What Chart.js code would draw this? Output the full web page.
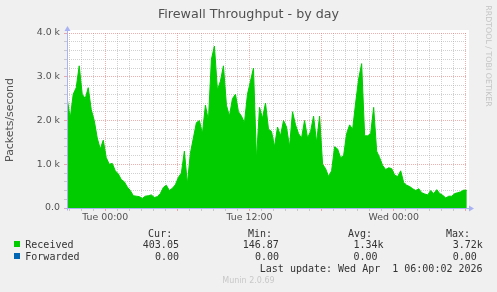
<!DOCTYPE html>
<html>
<head>
<meta charset="utf-8">
<script src="https://cdn.jsdelivr.net/npm/chart.js@4.4.1/dist/chart.umd.min.js"></script>
<style>
  body { margin: 0; background: #f0f0f0; }
  #wrap { position: relative; width: 497px; height: 292px; overflow: hidden; font-family: "DejaVu Sans", sans-serif; }
  #chart { position: absolute; left: 0; top: 0; }
  .txt { position: absolute; white-space: pre; }
  .title { left: 0; top: 6px; width: 497px; text-align: center; font-size: 12.7px; line-height: 15px; color: #505050; }
  .ytitle { left: -49.8px; top: 112.5px; width: 120px; height: 14px; line-height: 14px; text-align: center; font-size: 10.9px; color: #505050; transform: rotate(-90deg); }
  .rrd { left: 427.7px; top: 51px; width: 120px; height: 10px; line-height: 10px; text-align: center; font-size: 7.9px; color: #c4c4c4; transform: rotate(90deg); }
  .mono { font-family: "DejaVu Sans Mono", monospace; font-size: 10px; line-height: 12px; color: #333; }
  .box { position: absolute; width: 6px; height: 6px; }
  .munin { left: 0; top: 276px; width: 497px; text-align: center; font-size: 8px; line-height: 10px; color: #c8c8c8; }
</style>
</head>
<body>
<div id="wrap">
  <canvas id="chart" width="497" height="292"></canvas>
  <div class="txt title">Firewall Throughput - by day</div>
  <div class="txt ytitle">Packets/second</div>
  <div class="txt rrd">RRDTOOL / TOBI OETIKER</div>
  <div class="txt munin">Munin 2.0.69</div>
</div>
<script>
// packets/second, one reading every 15 minutes, starting Mon ~20:50
const sampleStart = -190; // minutes relative to Tue 00:00
const sampleStep = 15;
const received = [
  2500, 2050, 2600, 2750, 3250, 2600, 2500, 2750, 2250, 2000,
  1600, 1350, 1550, 1150, 1000, 1020, 850, 780, 650, 600,
  480, 400, 280, 270, 260, 220, 270, 280, 300, 240,
  260, 330, 470, 520, 400, 450, 530, 700, 800, 1300,
  550, 1250, 1600, 1950, 2000, 1700, 2350, 2000, 3400, 3700,
  2700, 2900, 3250, 2350, 2100, 2500, 2600, 2200, 2100, 1950,
  2600, 2900, 3200, 1100, 2300, 2050, 2400, 1800, 1750, 1400,
  1850, 1650, 2000, 1850, 1400, 2200, 1900, 1700, 1600, 2000,
  1600, 1750, 2100, 1500, 2100, 1000, 900, 720, 850, 1400,
  1350, 1150, 1200, 1700, 1900, 1800, 2400, 2950, 3300, 1650,
  1650, 1700, 2300, 1300, 1150, 970, 880, 920, 900, 750,
  720, 850, 580, 520, 490, 440, 400, 440, 350, 320,
  300, 400, 330, 420, 330, 290, 230, 270, 270, 330,
  350, 370, 410, 403
];

const xTickMinutes = [0, 720, 1440];
const xTickText = ["Tue 00:00", "Tue 12:00", "Wed 00:00"];
const yTickValues = [0, 1000, 2000, 3000, 4000];
const yTickText = ["0.0", "1.0 k", "2.0 k", "3.0 k", "4.0 k"];

const seriesNames = ["Received", "Forwarded"];
const seriesColors = ["#00cc00", "#0066b3"];
const statHeaders = ["Cur:", "Min:", "Avg:", "Max:"];
const curText = ["403.05", "0.00"];
const minText = ["146.87", "0.00"];
const avgText = ["1.34k", "0.00"];
const maxText = ["3.72k", "0.00"];
const lastUpdate = "Last update: Wed Apr  1 06:00:02 2026";

const wrap = document.getElementById("wrap");

// legend, laid out like rrdtool's gprint lines
const addText = (text, left, top, cls) => {
  const el = document.createElement("div");
  el.className = "txt " + cls;
  el.textContent = text;
  el.style.left = left + "px";
  el.style.top = top + "px";
  wrap.appendChild(el);
};
const headerLeft = [148.1, 248, 348, 446];
statHeaders.forEach((h, i) => addText(h, headerLeft[i], 227.5, "mono"));
const rowTop = [238.8, 250.8];
const valueLeft = [[142.8, 242.7, 353.5, 452.7], [155, 255, 353.5, 452.7]];
seriesNames.forEach((name, r) => {
  const box = document.createElement("div");
  box.className = "box";
  box.style.left = "14px";
  box.style.top = (rowTop[r] + 2.4) + "px";
  box.style.background = seriesColors[r];
  wrap.appendChild(box);
  addText(name, 25.3, rowTop[r], "mono");
  [curText, minText, avgText, maxText].forEach((col, c) => addText(col[r], valueLeft[r][c], rowTop[r], "mono"));
});
addText(lastUpdate, 259.8, 263.2, "mono");

const axisColor = "#a9b2f2";
const majorGrid = "rgba(225,110,110,0.55)";
const minorGrid = "rgba(170,170,170,0.55)";

const muninLook = {
  id: "muninLook",
  beforeDraw(chart) {
    const { ctx, chartArea: a } = chart;
    ctx.save();
    ctx.fillStyle = "#ffffff";
    ctx.fillRect(a.left, a.top - 3, a.right - a.left + 2, a.bottom - a.top + 3);
    ctx.restore();
  },
  afterDatasetsDraw(chart) {
    const { ctx, chartArea: a } = chart;
    const x0 = Math.round(a.left) + 0.5;
    const y0 = Math.round(a.bottom) + 0.5;
    ctx.save();
    ctx.strokeStyle = axisColor;
    ctx.fillStyle = axisColor;
    ctx.lineWidth = 1;
    ctx.beginPath();
    ctx.moveTo(x0, y0 + 2);
    ctx.lineTo(x0, a.top - 4);
    ctx.moveTo(x0 - 2, y0);
    ctx.lineTo(a.right + 4, y0);
    ctx.stroke();
    // arrow heads
    ctx.beginPath();
    ctx.moveTo(x0, a.top - 7);
    ctx.lineTo(x0 - 3, a.top - 2);
    ctx.lineTo(x0 + 3, a.top - 2);
    ctx.closePath();
    ctx.fill();
    ctx.beginPath();
    ctx.moveTo(a.right + 7, y0);
    ctx.lineTo(a.right + 2, y0 - 3);
    ctx.lineTo(a.right + 2, y0 + 3);
    ctx.closePath();
    ctx.fill();
    ctx.restore();
  }
};

const tickFont = { family: "DejaVu Sans", size: 9.4 };

new Chart(document.getElementById("chart"), {
  type: "line",
  data: {
    datasets: [
      {
        label: seriesNames[0],
        data: received.map((v, i) => ({ x: sampleStart + i * sampleStep, y: v })),
        borderColor: seriesColors[0],
        backgroundColor: seriesColors[0],
        borderWidth: 1,
        fill: "origin",
        pointRadius: 0,
        tension: 0,
      },
    ],
  },
  options: {
    responsive: false,
    animation: false,
    devicePixelRatio: 1,
    layout: { padding: { left: 0, top: 33, right: 30, bottom: 64 } },
    plugins: {
      legend: { display: false },
      tooltip: { enabled: false },
    },
    scales: {
      x: {
        type: "linear",
        min: -191,
        max: 1806,
        afterFit: (s) => { s.height = 20; },
        ticks: {
          stepSize: 60,
          autoSkip: false,
          includeBounds: false,
          maxTicksLimit: 100,
          maxRotation: 0,
          padding: 1,
          font: tickFont,
          color: "#505050",
          callback: (v) => {
            const k = xTickMinutes.indexOf(v);
            return k >= 0 ? xTickText[k] : "";
          },
        },
        grid: {
          color: (c) => (c.tick && c.tick.value % 360 === 0 ? majorGrid : minorGrid),
          tickColor: (c) => (c.tick && c.tick.value % 360 === 0 ? majorGrid : minorGrid),
          tickLength: 3,
          borderDash: [1, 1],
        },
        border: { display: false, dash: [1, 1] },
      },
      y: {
        min: 0,
        max: 4000,
        afterFit: (s) => { s.width = 67; },
        ticks: {
          stepSize: 200,
          autoSkip: false,
          maxTicksLimit: 100,
          padding: 4,
          font: tickFont,
          color: "#505050",
          callback: (v) => {
            const k = yTickValues.indexOf(v);
            return k >= 0 ? yTickText[k] : "";
          },
        },
        grid: {
          color: (c) => (c.tick && c.tick.value % 1000 === 0 ? majorGrid : minorGrid),
          tickColor: (c) => (c.tick && c.tick.value % 1000 === 0 ? majorGrid : minorGrid),
          tickLength: 3,
          borderDash: [1, 1],
        },
        border: { display: false, dash: [1, 1] },
      },
    },
  },
  plugins: [muninLook],
});
</script>
</body>
</html>
